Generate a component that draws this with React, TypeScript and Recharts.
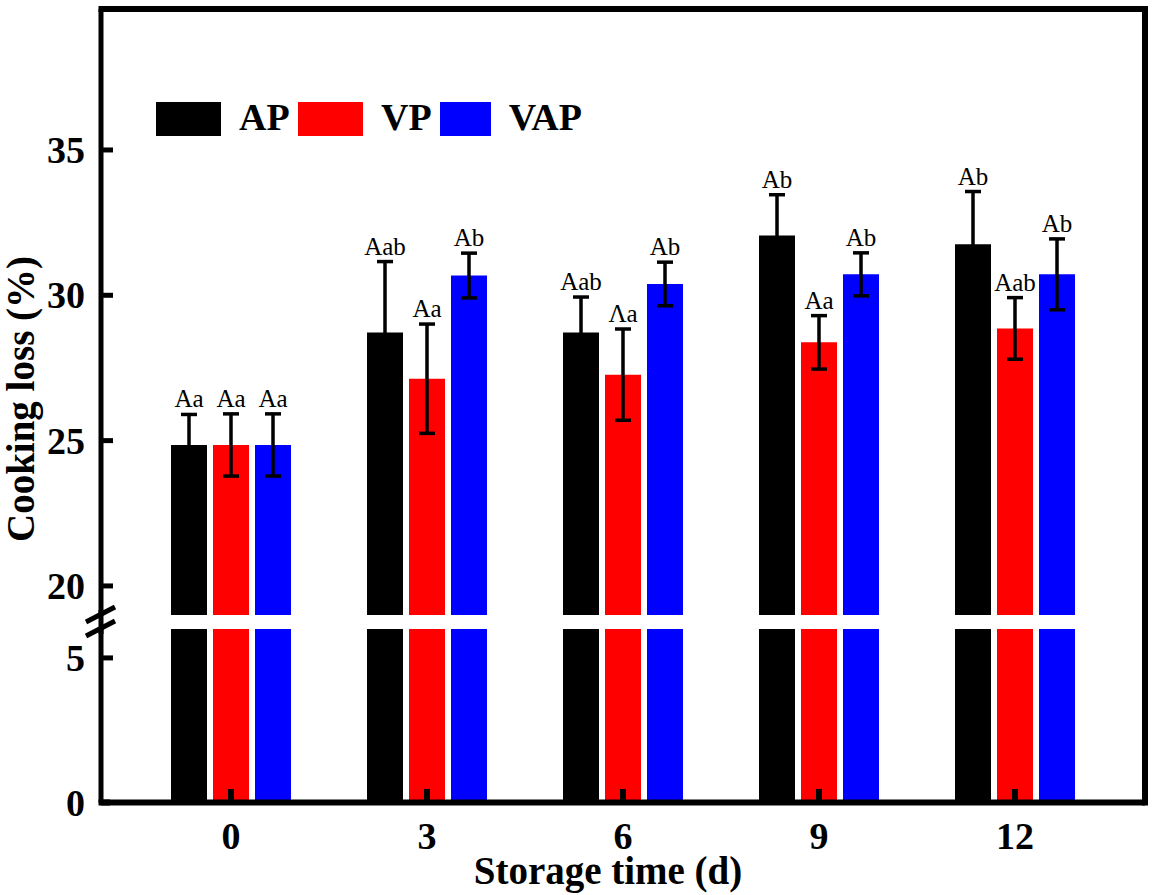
import React from 'react';
import { BarChart, Bar, XAxis, YAxis, ErrorBar, LabelList, Legend, Label } from 'recharts';

// ---------- data ----------
const days = ['0', '3', '6', '9', '12'];
const seriesNames = ['AP', 'VP', 'VAP'];
const seriesColors = ['#000000', '#ff0000', '#0000ff'];
const apValues = [24.85, 28.72, 28.72, 32.06, 31.76];
const apErrors = [1.05, 2.44, 1.22, 1.4, 1.81];
const vpValues = [24.85, 27.13, 27.27, 28.38, 28.86];
const vpErrors = [1.07, 1.88, 1.57, 0.92, 1.06];
const vapValues = [24.85, 30.68, 30.39, 30.72, 30.72];
const vapErrors = [1.07, 0.77, 0.75, 0.74, 1.22];
const apLetters = ['Aa', 'Aab', 'Aab', 'Ab', 'Ab'];
const vpLetters = ['Aa', 'Aa', 'Λa', 'Aa', 'Aab'];
const vapLetters = ['Aa', 'Ab', 'Ab', 'Ab', 'Ab'];
const upperTicks = [20, 25, 30, 35];
const lowerTicks = [0, 5];
const upperDomain: [number, number] = [19, 39.85];
const lowerDomain: [number, number] = [0, 6];
const xTitle = 'Storage time (d)';
const yTitle = 'Cooking loss (%)';

const table = days.map((d, i) => ({
  day: d,
  ap: apValues[i],
  apErr: apErrors[i],
  apTop: apValues[i] + apErrors[i],
  apLabel: apLetters[i],
  vp: vpValues[i],
  vpErr: vpErrors[i],
  vpTop: vpValues[i] + vpErrors[i],
  vpLabel: vpLetters[i],
  vap: vapValues[i],
  vapErr: vapErrors[i],
  vapTop: vapValues[i] + vapErrors[i],
  vapLabel: vapLetters[i],
}));

const keys = ['ap', 'vp', 'vap'];

// ---------- layout ----------
const W = 1156;
const H = 895;
const SERIF = '"Liberation Serif", "Times New Roman", Times, serif';
const Y_AXIS_W = 60;
const LEFT_MARGIN = 41; // axis line at x = 101
const RIGHT_MARGIN = 11; // right border at x = 1145
const UPPER_MARGIN = { top: 9, right: RIGHT_MARGIN, bottom: H - 615, left: LEFT_MARGIN };
const LOWER_MARGIN = { top: 629, right: RIGHT_MARGIN, bottom: 0, left: LEFT_MARGIN };
const X_PAD = { left: 32, right: 32 };
const BAR_SIZE = 36;
const BAR_GAP = 6;

const YTick = (props: any) => {
  const { x, y, payload } = props;
  return (
    <g>
      <line x1={x} x2={x + 12} y1={y} y2={y} stroke="#000" strokeWidth={5} />
      <text x={x - 16} y={y + 13} textAnchor="end" fontFamily={SERIF} fontWeight="bold" fontSize={38} fill="#000">
        {payload.value}
      </text>
    </g>
  );
};

const XTick = (props: any) => {
  const { x, y, payload } = props;
  return (
    <g>
      <line x1={x} x2={x} y1={y} y2={y - 13.5} stroke="#000" strokeWidth={6} />
      <text x={x} y={y + 46} textAnchor="middle" fontFamily={SERIF} fontWeight="bold" fontSize={38} fill="#000">
        {payload.value}
      </text>
    </g>
  );
};

const renderYTitle = () => (
  <text
    transform="translate(34,399) rotate(-90)"
    textAnchor="middle"
    fontFamily={SERIF}
    fontWeight="bold"
    fontSize={39}
    fill="#000"
  >
    {yTitle}
  </text>
);

const renderXTitle = () => (
  <text x={608} y={884} textAnchor="middle" fontFamily={SERIF} fontWeight="bold" fontSize={39} fill="#000">
    {xTitle}
  </text>
);

const renderBarLabel = (props: any) => {
  const { x, y, width, value } = props;
  return (
    <text
      x={Number(x) + Number(width) / 2}
      y={Number(y) - 7}
      textAnchor="middle"
      fontFamily={SERIF}
      fontSize={25}
      fill="#000"
    >
      {value}
    </text>
  );
};

const renderLegend = () => (
  <div style={{ display: 'flex', flexDirection: 'row' }}>
    {seriesNames.map((name, i) => (
      <div key={name} style={{ width: 142, height: 34, display: 'flex', alignItems: 'flex-start' }}>
        <div style={{ width: 65, height: 34, background: seriesColors[i] }} />
        <span
          style={{
            marginLeft: 18,
            fontFamily: SERIF,
            fontWeight: 'bold',
            fontSize: 38,
            lineHeight: '34px',
            color: '#000',
            position: 'relative',
            top: -2,
          }}
        >
          {name}
        </span>
      </div>
    ))}
  </div>
);

export default function App() {
  return (
    <div style={{ position: 'absolute', left: 0, top: 0, width: W, height: H, background: '#fff' }}>
      {/* upper (broken) section: 19 - 39.85 */}
      <div style={{ position: 'absolute', left: 0, top: 0 }}>
        <BarChart width={W} height={H} data={table} margin={UPPER_MARGIN} barSize={BAR_SIZE} barGap={BAR_GAP}>
          <XAxis dataKey="day" hide padding={X_PAD} />
          <YAxis
            width={Y_AXIS_W}
            type="number"
            domain={upperDomain}
            allowDataOverflow
            ticks={upperTicks}
            interval={0}
            tick={<YTick />}
            tickSize={0}
            tickMargin={0}
            tickLine={false}
            axisLine={{ stroke: '#000', strokeWidth: 5 }}
          >
            <Label content={renderYTitle} />
          </YAxis>
          <Legend
            layout="horizontal"
            verticalAlign="middle"
            align="center"
            content={renderLegend}
            wrapperStyle={{ left: 156, top: 102, width: 520, height: 34 }}
          />
          {keys.map((k, i) => (
            <Bar key={k} dataKey={k} name={seriesNames[i]} fill={seriesColors[i]} isAnimationActive={false}>
              <ErrorBar dataKey={k + 'Err'} width={8} strokeWidth={3.5} stroke="#000" direction="y" />
            </Bar>
          ))}
        </BarChart>
      </div>

      {/* letter labels above error bars (same geometry, invisible bars reaching mean + error) */}
      <div style={{ position: 'absolute', left: 0, top: 0 }}>
        <BarChart width={W} height={H} data={table} margin={UPPER_MARGIN} barSize={BAR_SIZE} barGap={BAR_GAP}>
          <XAxis dataKey="day" hide padding={X_PAD} />
          <YAxis
            width={Y_AXIS_W}
            type="number"
            domain={upperDomain}
            allowDataOverflow
            tick={false}
            tickLine={false}
            axisLine={false}
          />
          {keys.map((k, i) => (
            <Bar
              key={k}
              dataKey={k + 'Top'}
              name={seriesNames[i]}
              fill="transparent"
              legendType="none"
              isAnimationActive={false}
            >
              <LabelList dataKey={k + 'Label'} content={renderBarLabel} />
            </Bar>
          ))}
        </BarChart>
      </div>

      {/* lower section: 0 - 6 */}
      <div style={{ position: 'absolute', left: 0, top: 0 }}>
        <BarChart width={W} height={H} data={table} margin={LOWER_MARGIN} barSize={BAR_SIZE} barGap={BAR_GAP}>
          <XAxis
            dataKey="day"
            padding={X_PAD}
            height={92.5}
            tick={<XTick />}
            tickSize={0}
            tickMargin={0}
            tickLine={false}
            interval={0}
            axisLine={{ stroke: '#000', strokeWidth: 6 }}
          >
            <Label content={renderXTitle} />
          </XAxis>
          <YAxis
            width={Y_AXIS_W}
            type="number"
            domain={lowerDomain}
            allowDataOverflow
            ticks={lowerTicks}
            interval={0}
            tick={<YTick />}
            tickSize={0}
            tickMargin={0}
            tickLine={false}
            axisLine={{ stroke: '#000', strokeWidth: 5 }}
          />
          {keys.map((k, i) => (
            <Bar key={k} dataKey={k} name={seriesNames[i]} fill={seriesColors[i]} isAnimationActive={false} />
          ))}
        </BarChart>
      </div>

      {/* frame: top and right borders, axis break marks */}
      <svg
        width={W}
        height={H}
        style={{ position: 'absolute', left: 0, top: 0, pointerEvents: 'none' }}
      >
        <path d="M98.5 9 H1145 V805.5" stroke="#000" strokeWidth={6} fill="none" strokeLinejoin="miter" />
        <line x1={101} x2={101} y1={610} y2={634} stroke="#000" strokeWidth={5} />
        <line x1={98.5} x2={110} y1={802.5} y2={802.5} stroke="#000" strokeWidth={6} />
        <line x1={86} y1={622} x2={115} y2={607} stroke="#000" strokeWidth={5} />
        <line x1={86} y1={636} x2={115} y2={621} stroke="#000" strokeWidth={5} />
      </svg>
    </div>
  );
}
